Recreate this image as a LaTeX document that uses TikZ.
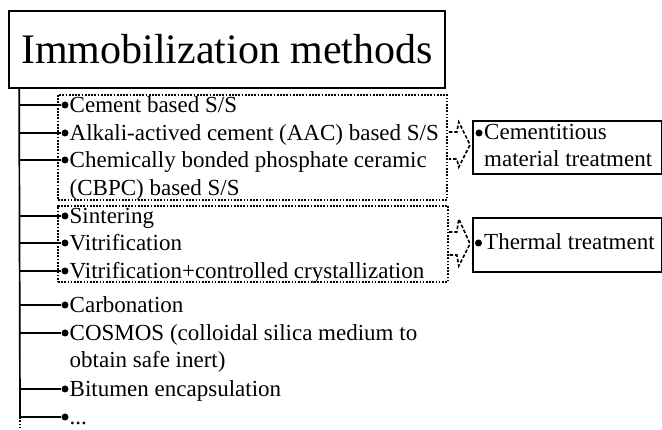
\documentclass[tikz,border=0pt]{standalone}
\usepackage{fontspec}
\setmainfont{Liberation Serif}
\usetikzlibrary{calc}
\begin{document}
\begin{tikzpicture}[x=1pt,y=-1pt,
  item/.style={anchor=base west, inner sep=0pt, font=\fontsize{23}{27.5}\selectfont},
  bullet/.style={circle, fill=black, inner sep=0pt, minimum size=7pt},
  branch/.style={line width=1.7pt},
  groupbox/.style={draw, line width=1.8pt, dash pattern=on 1.7pt off 1.5pt, inner sep=0pt, anchor=north west},
  chev/.style={line width=1.6pt, dash pattern=on 3.5pt off 2pt},
  outbox/.style={draw, line width=1.7pt, inner sep=0pt, anchor=north west}]
\useasboundingbox (0,0) rectangle (662,430);
% title
\node[draw, line width=1.7pt, minimum width=436pt, minimum height=77pt, inner sep=0pt,
      font=\fontsize{42}{48}\selectfont] (title) at (227,49.5) {Immobilization methods};
% trunk
\coordinate (top) at ([xshift=11pt]title.south west);
\coordinate (tb) at (20,417);
\coordinate (tend) at (20,428);
\draw[branch] (top) -- (tb);
\draw[line width=1.7pt, dash pattern=on 1.7pt off 1.7pt] (tb) -- (tend);
% group boxes
\node[groupbox, minimum width=389pt, minimum height=105pt] (g1) at (57,94) {};
\node[groupbox, minimum width=390pt, minimum height=76pt] (g2) at (57,205) {};
% items
\foreach \n/\y/\t in {
  a/105/{Cement based S/S},
  b/133/{Alkali-actived cement (AAC) based S/S},
  c/160/{Chemically bonded phosphate ceramic},
  d/216/{Sintering},
  e/243/{Vitrification},
  f/271/{Vitrification+controlled crystallization},
  g/305/{Carbonation},
  h/333/{COSMOS (colloidal silica medium to},
  i/389/{Bitumen encapsulation},
  j/417/{...}}{
  \node[bullet] (d\n) at (65,\y) {};
  \node[item] (t\n) at (69.5,\y+8) {\t};
  \draw[branch] (d\n -| top) -- (d\n);
}
\node[item] (tc2) at (69.5,196) {(CBPC) based S/S};
\node[item] (th2) at (69.5,368) {obtain safe inert)};
% output boxes
\node[outbox, minimum width=188.5pt, minimum height=53pt] (c1) at (472,120) {};
\node[outbox, minimum width=188.5pt, minimum height=54pt] (c2) at (472,217) {};
\node[bullet] (dc1) at (479,133) {};
\node[item] (tc1a) at (484,140) {Cementitious};
\node[item] (tc1b) at (484,167) {material treatment};
\node[bullet] (dc2) at (478.5,243) {};
\node[item] (tc2a) at (484,250) {Thermal treatment};
% chevron connectors
\draw[chev] ($(g1.north east)+(1,38)$) -- ++(8,0) -- ++(2,-10) -- ($(c1.west)+(-2,-2.5)$)
  -- ($(g1.north east)+(11,73)$) -- ++(-2,-8) -- ++(-8,0);
\draw[chev] ($(g2.north east)+(0,27)$) -- ++(8,0) -- ++(2,-13) -- ($(c2.west)+(-2,-1)$)
  -- ($(g2.north east)+(10,61)$) -- ++(-2,-11) -- ++(-8,0);
\end{tikzpicture}
\end{document}
